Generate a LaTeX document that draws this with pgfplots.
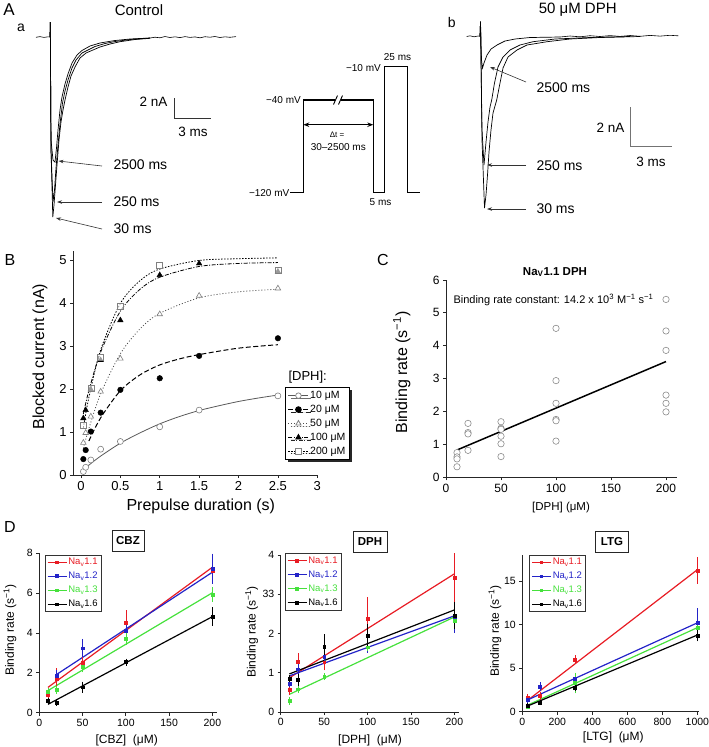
\documentclass[border=0pt]{standalone}
\usepackage{fontspec}
\setmainfont{Liberation Sans}
\usepackage{pgfplots}
\pgfplotsset{compat=1.18}
\usetikzlibrary{arrows.meta,shadows}
\newcommand\fs[1]{\fontsize{#1bp}{#1bp}\selectfont}
\definecolor{rD}{RGB}{232,28,36}
\definecolor{bD}{RGB}{35,35,200}
\definecolor{gD}{RGB}{70,225,60}
\definecolor{cg}{RGB}{140,140,140}
\pgfplotsset{
 panel/.style={scale only axis, anchor=north west, axis lines=left,
   axis line style={-, black!85, line width=0.8bp}, tick align=outside,
   major tick length=3bp, tick style={black!85, line width=0.8bp},
   /pgf/number format/assume math mode=true, /pgf/number format/1000 sep={}, clip=false},
 dpanel/.style={panel, tick label style={font=\fs{10.5}},
   legend style={draw=black!80, fill=white, font=\fs{9.5}, cells={anchor=west}, row sep=3.5bp, inner sep=2bp, nodes={inner sep=1.2bp},
     /tikz/every even column/.append style={column sep=1bp}},
   legend image code/.code={\draw[mark repeat=2,mark phase=2] plot coordinates {(0bp,0bp)(9.5bp,0bp)(19bp,0bp)};}},
 ebar/.style={only marks, mark=square*, mark size=1.4bp, error bars/.cd, y dir=both, y explicit, error bar style={line width=0.5bp}, error mark options={line width=0.5bp, mark size=1.6bp}},
}
\begin{document}
\begin{tikzpicture}
\useasboundingbox (0,0) rectangle (709bp,-747bp);
% ---------- canvas axis: panel A drawings and all text ----------
\begin{axis}[scale only axis, anchor=north west, at={(0bp,0bp)}, width=709bp, height=747bp,
  xmin=0, xmax=709, ymin=0, ymax=747, y dir=reverse, axis lines=none, clip=false]
% A-a traces
\addplot[black, line width=0.6bp] coordinates {(36,37.3)(40,36.6)(44,37.4)(48,36.8)(50,37)};
\addplot[black, line width=0.7bp] coordinates {(50,37)(50.3,22)(51,150)(52.8,217)(54,205)(55.5,185)(57,165)(59,140)(61,122)(63,110)(65,100)(68,87)(71,76)(75,67)(80,58)(86,53)(93,50)(100,47)(110,44)(120,41.7)(135,39.5)(150,38.3)};
\addplot[black, line width=0.7bp] coordinates {(50,37)(50.3,22)(51,150)(53,202)(54.5,190)(56,168)(58,145)(60,124)(62.5,103)(65,91)(68,80)(72,68)(76,60)(82,53)(88,50)(95,46.5)(105,43.5)(115,41.5)(130,39.5)(150,38)};
\addplot[black, line width=0.7bp] coordinates {(50,37)(50.3,22)(51,140)(53,160)(55,162)(56.5,148)(58,130)(60,110)(62,97)(65,84)(68,74)(72,63)(77,55)(82,50.5)(90,46)(100,43)(115,40.5)(130,39)(150,38)};
\addplot[black, line width=0.6bp] coordinates {(150,38)(155,37.2)(160,37.8)(165,36.5)(170,37.5)(175,36.8)(180,37.6)(185,36.6)(190,37.4)(195,36.9)(200,37.8)(205,36.7)(210,37.2)(215,36.5)(220,37.5)(225,36.8)(230,37.3)(236,36.6)};
% scale bar a
\addplot[black!80, line width=0.7bp] coordinates {(174,98)(174,118)(211,118)};
% arrows a
\addplot[black!80, line width=0.6bp, -{Stealth[length=5bp,width=3.5bp]}] coordinates {(102,166)(58.5,161)};
\addplot[black!80, line width=0.6bp, -{Stealth[length=5bp,width=3.5bp]}] coordinates {(102,202)(57,202)};
\addplot[black!80, line width=0.6bp, -{Stealth[length=5bp,width=3.5bp]}] coordinates {(102,229)(56,218)};
% protocol
\addplot[black, line width=1.3bp] coordinates {(290,192.7)(303.3,192.7)(303.3,100)(373.3,100)(373.3,192.7)(384.3,192.7)(384.3,66.7)(407.7,66.7)(407.7,192.7)(420,192.7)};
\addplot[white, line width=2.5bp] coordinates {(335,100)(341,100)};
\addplot[black, line width=0.9bp] coordinates {(333.5,104.5)(337.5,95.5)};
\addplot[black, line width=0.9bp] coordinates {(338.5,104.5)(342.5,95.5)};
\addplot[black, line width=1bp, {Stealth[length=6bp,width=4.5bp]}-{Stealth[length=6bp,width=4.5bp]}] coordinates {(303.3,124.7)(373.3,124.7)};
% A-b traces
\addplot[black, line width=0.6bp] coordinates {(466.7,36.5)(470,35.8)(474,36.8)(478,36)(480,36.3)};
\addplot[black, line width=0.7bp] coordinates {(480,36)(480.5,21.7)(482,140)(484.5,208)(486,195)(487.5,175)(489,152)(491,130)(493,113)(496.7,100)(500,83)(503,68)(508,57)(517,50)(527,45)(547,41.7)(570,39)(600,37.5)(640,36.5)};
\addplot[black, line width=0.7bp] coordinates {(480,36)(480.5,21.7)(482,130)(484,165)(486,142)(488,122)(490,107)(491.7,100)(494.5,83)(498,67)(503,57)(510,50)(520,45)(533,41.7)(555,39)(590,37.5)(630,36.5)};
\addplot[black, line width=0.7bp] coordinates {(480,36)(480.5,21.7)(481.5,60)(482.5,68)(484,63)(487,55)(491,49)(497,45)(505,41)(515,39)(530,37.5)(560,37)};
\addplot[black, line width=0.6bp] coordinates {(560,37)(570,36)(580,36.8)(590,35.7)(600,36.5)(610,35.6)(620,36.4)(630,35.5)(640,36.3)(650,35.4)(660,36.1)(670,35.3)(678.3,35.8)};
% scale bar b
\addplot[black!55, line width=0.8bp] coordinates {(630.7,107)(630.7,146)(671.7,146)};
% arrows b
\addplot[black!80, line width=0.6bp, -{Stealth[length=5bp,width=3.5bp]}] coordinates {(526,82)(490,67)};
\addplot[black!80, line width=0.6bp, -{Stealth[length=5bp,width=3.5bp]}] coordinates {(526,165)(487,165)};
\addplot[black!80, line width=0.6bp, -{Stealth[length=5bp,width=3.5bp]}] coordinates {(526,209)(487,209)};
% ---- texts ----
\node[font=\fs{17}] at (axis cs:9,10) {A};
\node[font=\fs{14}] at (axis cs:21,28) {a};
\node[font=\fs{15}] at (axis cs:139,10) {Control};
\node[font=\fs{14},anchor=west] at (axis cs:110,165) {2500 ms};
\node[font=\fs{14},anchor=west] at (axis cs:110,202) {250 ms};
\node[font=\fs{14},anchor=west] at (axis cs:110,229) {30 ms};
\node[font=\fs{13.5},anchor=east] at (axis cs:171,102) {2 nA};
\node[font=\fs{13.5}] at (axis cs:193,131.5) {3 ms};
\node[font=\fs{10},anchor=east,inner sep=1bp] at (axis cs:302,100) {−40 mV};
\node[font=\fs{10},anchor=east,inner sep=1bp] at (axis cs:290.5,193) {−120 mV};
\node[font=\fs{10},anchor=east,inner sep=1bp] at (axis cs:382,68.5) {−10 mV};
\node[font=\fs{10}] at (axis cs:397.5,57.5) {25 ms};
\node[font=\fs{10}] at (axis cs:380.5,202.3) {5 ms};
\node[font=\fs{8}] at (axis cs:337,135) {Δt =};
\node[font=\fs{10}] at (axis cs:338.3,146.7) {30–2500 ms};
\node[font=\fs{14}] at (axis cs:451.7,22) {b};
\node[font=\fs{15}] at (axis cs:577.7,9.5) {50 μM DPH};
\node[font=\fs{14},anchor=west] at (axis cs:533,88) {2500 ms};
\node[font=\fs{14},anchor=west] at (axis cs:533,166) {250 ms};
\node[font=\fs{14},anchor=west] at (axis cs:533,209) {30 ms};
\node[font=\fs{13.5},anchor=east] at (axis cs:628,128) {2 nA};
\node[font=\fs{13.5}] at (axis cs:651,162) {3 ms};
\node[font=\fs{16}] at (axis cs:10,260) {B};
\node[font=\fs{16}] at (axis cs:383,260) {C};
\node[font=\fs{16}] at (axis cs:10,527) {D};
\node[font=\fs{16},rotate=90] at (axis cs:40,356.7) {Blocked current (nA)};
\node[font=\fs{16}] at (axis cs:200.8,506) {Prepulse duration (s)};
\node[font=\fs{13},anchor=west] at (axis cs:285,377) {[DPH]:};
\node[font=\bfseries\fs{11.5}] at (axis cs:555,272) {Na\textsubscript{V}1.1 DPH};
\node[font=\fs{11},anchor=west] at (axis cs:450,300) {Binding rate constant: 14.2 x 10\textsuperscript{3} M\textsuperscript{−1} s\textsuperscript{−1}};
\node[font=\fs{16},rotate=90] at (axis cs:401.7,372.5) {Binding rate (s\textsuperscript{−1})};
\node[font=\fs{11.5}] at (axis cs:561,507.3) {[DPH] (μM)};
\node[font=\fs{12},rotate=90] at (axis cs:10,630) {Binding rate (s\textsuperscript{−1})};
\node[font=\fs{12}] at (axis cs:126.7,740) {[CBZ]\ \ (μM)};
\node[font=\fs{12},rotate=90] at (axis cs:251.7,632) {Binding rate (s\textsuperscript{−1})};
\node[font=\fs{12}] at (axis cs:370,740) {[DPH]\ \ (μM)};
\node[font=\fs{12},rotate=90] at (axis cs:495,631) {Binding rate (s\textsuperscript{−1})};
\node[font=\fs{12}] at (axis cs:613.3,737) {[LTG]\ \ (μM)};
\node[draw=black!85, line width=1bp, font=\bfseries\fs{11.5}, minimum width=32bp, minimum height=21bp, inner sep=1bp] at (axis cs:128,541) {CBZ};
\node[draw=black!85, line width=1bp, font=\bfseries\fs{11.5}, minimum width=34bp, minimum height=21bp, inner sep=1bp] at (axis cs:370,542) {DPH};
\node[draw=black!85, line width=1bp, font=\bfseries\fs{11.5}, minimum width=33bp, minimum height=21bp, inner sep=1bp] at (axis cs:612,542) {LTG};
\end{axis}

% ---------- Panel B ----------
\begin{axis}[panel, at={(73.1bp,-251.4bp)}, width=244.2bp, height=223.6bp,
  xmin=-0.1, xmax=3, ymin=0, ymax=5.2, xtick={0,0.5,1,1.5,2,2.5,3}, ytick={0,1,2,3,4,5},
  xticklabels={0,0.5,1,1.5,2,2.5,3},
  tick label style={font=\fs{13}},
  legend style={at={(axis description cs:0.8677,0.3936)}, anchor=north west, draw=black, line width=0.9bp, fill=white,
    drop shadow={shadow xshift=2.5bp, shadow yshift=-2.5bp, fill=black, opacity=0.85},
    font=\fs{10.5}, cells={anchor=west}, row sep=2.5bp, inner sep=2.5bp, nodes={inner sep=1.3bp},
    /tikz/every even column/.append style={column sep=1bp}},
  legend image code/.code={\draw[mark repeat=2,mark phase=2] plot coordinates {(0bp,0bp)(10bp,0bp)(20bp,0bp)};}]
\addlegendimage{gray!70!black, line width=0.7bp, mark=*, mark size=2.8bp, mark options={solid, fill=white, draw=gray}}
\addlegendentry{10 μM}
\addlegendimage{black, line width=1bp, dash pattern=on 5bp off 2.5bp, mark=*, mark size=2.8bp, mark options={solid, fill=black}}
\addlegendentry{20 μM}
\addlegendimage{gray!60!black, line width=0.8bp, dash pattern=on 1bp off 2bp, mark=triangle*, mark size=3bp, mark options={solid, fill=white, draw=gray}}
\addlegendentry{50 μM}
\addlegendimage{black, line width=0.8bp, dash pattern=on 4bp off 1.5bp on 1bp off 1.5bp, mark=triangle*, mark size=3bp, mark options={solid, fill=black}}
\addlegendentry{100 μM}
\addlegendimage{black, line width=0.8bp, dash pattern=on 1.5bp off 1.5bp, mark=square*, mark size=2.7bp, mark options={solid, fill=white, draw=gray}}
\addlegendentry{200 μM}
% fits
\addplot[forget plot, gray!70!black, line width=0.8bp, smooth] coordinates {(0.03,0.13)(0.1,0.23)(0.25,0.44)(0.5,0.74)(0.75,0.98)(1,1.19)(1.25,1.36)(1.5,1.50)(1.75,1.61)(2,1.71)(2.25,1.79)(2.5,1.86)};
\addplot[forget plot, black, line width=1bp, dash pattern=on 5bp off 2.5bp, smooth] coordinates {(0.1,0.79)(0.25,1.33)(0.5,1.96)(0.75,2.33)(1,2.56)(1.25,2.7)(1.5,2.8)(2,2.95)(2.5,3.03)};
\addplot[forget plot, gray!60!black, line width=0.8bp, dash pattern=on 1bp off 2bp, smooth] coordinates {(0.03,0.62)(0.1,1.08)(0.25,1.89)(0.5,2.82)(0.75,3.40)(1,3.76)(1.5,4.12)(2,4.26)(2.5,4.32)};
\addplot[forget plot, black, line width=0.8bp, dash pattern=on 4bp off 1.5bp on 1bp off 1.5bp, smooth] coordinates {(0.03,1.42)(0.1,1.96)(0.25,2.86)(0.5,3.81)(0.75,4.32)(1,4.6)(1.5,4.85)(2,4.92)(2.5,4.94)};
\addplot[forget plot, black, line width=0.8bp, dash pattern=on 1.5bp off 1.5bp, smooth] coordinates {(0.03,1.10)(0.1,1.80)(0.25,2.91)(0.5,3.99)(0.75,4.52)(1,4.79)(1.5,4.99)(2,5.03)(2.5,5.05)};
% data
\addplot[forget plot, only marks, mark=*, mark size=3bp, mark options={fill=white, draw=gray, line width=0.6bp}] coordinates {(0.03,0.08)(0.06,0.18)(0.125,0.35)(0.25,0.6)(0.5,0.78)(1,1.12)(1.5,1.51)(2.5,1.84)};
\addplot[forget plot, only marks, mark=*, mark size=2.8bp, black] coordinates {(0.03,0.37)(0.06,0.58)(0.125,1.01)(0.25,1.45)(0.5,1.98)(1,2.25)(1.5,2.77)(2.5,3.18)};
\addplot[forget plot, only marks, mark=triangle*, mark size=3.2bp, mark options={fill=white, draw=gray, line width=0.6bp}] coordinates {(0.03,0.75)(0.06,0.98)(0.125,1.36)(0.25,1.94)(0.5,2.71)(1,3.74)(1.5,4.17)(2.5,4.34)};
\addplot[forget plot, only marks, mark=triangle*, mark size=3.2bp, black] coordinates {(0.03,1.32)(0.06,1.51)(0.125,1.99)(0.25,2.67)(0.5,3.60)(1,4.65)(1.5,4.92)(2.5,4.73)};
\addplot[forget plot, only marks, mark=square*, mark size=3bp, mark options={fill=white, fill opacity=0.6, draw=gray, line width=0.6bp}] coordinates {(0.03,1.16)(0.125,2.02)(0.25,2.74)(0.5,3.93)(1,4.88)(2.5,4.77)};
\end{axis}

% ---------- Panel C ----------
\begin{axis}[panel, at={(446bp,-280bp)}, width=231bp, height=197.3bp,
  xmin=0, xmax=210, ymin=0, ymax=6, xtick={0,50,100,150,200}, ytick={0,1,2,3,4,5,6},
  tick label style={font=\fs{12}}]
\addplot[only marks, mark=*, mark size=3.2bp, mark options={fill=white, draw=cg, line width=0.6bp}] coordinates {
(10,0.75)(10,0.62)(10,0.56)(10,0.32)
(20,1.64)(20,1.36)(20,1.32)(20,0.82)
(50,1.69)(50,1.49)(50,1.46)(50,1.25)(50,1.02)(50,0.63)
(100,4.53)(100,2.94)(100,2.25)(100,1.76)(100,1.72)(100,1.10)
(200,5.41)(200,4.45)(200,3.86)(200,2.50)(200,2.25)(200,1.99)};
\addplot[black, line width=1.5bp] coordinates {(10,0.83)(200,3.52)};
\end{axis}

% ---------- Panel D1 CBZ ----------
\begin{axis}[dpanel, at={(39.3bp,-553.3bp)}, width=177.4bp, height=159.4bp,
  xmin=0, xmax=205, ymin=0, ymax=8, xtick={0,50,100,150,200}, ytick={0,2,4,6,8},
  legend style={at={(axis description cs:0.032,0.99)}, anchor=north west}]
\addlegendimage{rD, line width=1bp, mark=square*, mark size=1.3bp}
\addlegendentry{\color{rD}Na\textsubscript{v}1.1}
\addlegendimage{bD, line width=1bp, mark=square*, mark size=1.3bp}
\addlegendentry{\color{bD}Na\textsubscript{v}1.2}
\addlegendimage{gD, line width=1bp, mark=square*, mark size=1.3bp}
\addlegendentry{\color{gD}Na\textsubscript{v}1.3}
\addlegendimage{black, line width=1bp, mark=square*, mark size=1.3bp}
\addlegendentry{Na\textsubscript{v}1.6}
\addplot[forget plot, rD, line width=1.2bp] coordinates {(10,1.27)(200,7.3)};
\addplot[forget plot, bD, line width=1.2bp] coordinates {(20,1.92)(200,7.05)};
\addplot[forget plot, gD, line width=1.2bp] coordinates {(10,1.11)(200,6.02)};
\addplot[forget plot, black, line width=1.2bp] coordinates {(10,0.42)(200,4.82)};
\addplot[forget plot, rD, ebar] coordinates {(10,0.89) +- (0,0.12) (20,1.7) +- (0,0.45) (50,2.49) +- (0,0.25) (100,4.5) +- (0,0.55) (200,7.1) +- (0,0.4)};
\addplot[forget plot, bD, ebar] coordinates {(20,1.85) +- (0,0.2) (50,3.24) +- (0,0.38) (100,4.1) +- (0,0.3) (200,7.22) +- (0,0.68)};
\addplot[forget plot, gD, ebar] coordinates {(10,1.06) +- (0,0.1) (20,1.14) +- (0,0.1) (50,2.3) +- (0,0.2) (100,3.7) +- (0,0.2) (200,5.93) +- (0,0.3)};
\addplot[forget plot, black, ebar] coordinates {(10,0.59) +- (0,0.08) (20,0.5) +- (0,0.08) (50,1.28) +- (0,0.2) (100,2.54) +- (0,0.1) (200,4.82) +- (0,0.38)};
\end{axis}

% ---------- Panel D2 DPH ----------
\begin{axis}[dpanel, at={(280.7bp,-555bp)}, width=178bp, height=157bp,
  xmin=0, xmax=205, ymin=0, ymax=4, xtick={0,50,100,150,200}, ytick={0,1,2,3,4},
  yticklabels={0,1,2,33,4},
  legend style={at={(axis description cs:0.024,1.01)}, anchor=north west}]
\addlegendimage{rD, line width=1bp, mark=square*, mark size=1.3bp}
\addlegendentry{\color{rD}Na\textsubscript{v}1.1}
\addlegendimage{bD, line width=1bp, mark=square*, mark size=1.3bp}
\addlegendentry{\color{bD}Na\textsubscript{v}1.2}
\addlegendimage{gD, line width=1bp, mark=square*, mark size=1.3bp}
\addlegendentry{\color{gD}Na\textsubscript{v}1.3}
\addlegendimage{black, line width=1bp, mark=square*, mark size=1.3bp}
\addlegendentry{Na\textsubscript{v}1.6}
\addplot[forget plot, rD, line width=1.2bp] coordinates {(10,0.87)(200,3.52)};
\addplot[forget plot, bD, line width=1.2bp] coordinates {(10,0.92)(200,2.45)};
\addplot[forget plot, gD, line width=1.2bp] coordinates {(10,0.45)(200,2.42)};
\addplot[forget plot, black, line width=1.2bp] coordinates {(10,0.97)(200,2.6)};
\addplot[forget plot, rD, ebar] coordinates {(10,0.56) +- (0,0.08) (20,1.29) +- (0,0.17) (50,1.27) +- (0,0.17) (100,2.38) +- (0,0.5) (200,3.42) +- (0,0.58)};
\addplot[forget plot, bD, ebar] coordinates {(10,0.73) +- (0,0.05) (20,1.09) +- (0,0.1) (50,1.40) +- (0,0.1) (100,1.65) +- (0,0.1) (200,2.4) +- (0,0.35)};
\addplot[forget plot, gD, ebar] coordinates {(10,0.28) +- (0,0.05) (20,0.58) +- (0,0.05) (50,0.9) +- (0,0.05) (100,1.65) +- (0,0.05) (200,2.33) +- (0,0.1)};
\addplot[forget plot, black, ebar] coordinates {(10,0.84) +- (0,0.05) (20,0.82) +- (0,0.12) (50,1.67) +- (0,0.27) (100,1.95) +- (0,0.25) (200,2.45) +- (0,0.3)};
\end{axis}

% ---------- Panel D3 LTG ----------
\begin{axis}[dpanel, at={(522.3bp,-554.9bp)}, width=176.8bp, height=156.8bp,
  xmin=0, xmax=1010, ymin=0, ymax=18, xtick={0,200,400,600,800,1000}, ytick={0,5,10,15},
  legend style={at={(axis description cs:0.04,1.0)}, anchor=north west}]
\addlegendimage{rD, line width=1bp, mark=square*, mark size=1.3bp}
\addlegendentry{\color{rD}Na\textsubscript{v}1.1}
\addlegendimage{bD, line width=1bp, mark=square*, mark size=1.3bp}
\addlegendentry{\color{bD}Na\textsubscript{v}1.2}
\addlegendimage{gD, line width=1bp, mark=square*, mark size=1.3bp}
\addlegendentry{\color{gD}Na\textsubscript{v}1.3}
\addlegendimage{black, line width=1bp, mark=square*, mark size=1.3bp}
\addlegendentry{Na\textsubscript{v}1.6}
\addplot[forget plot, rD, line width=1.2bp] coordinates {(30,1.3)(1000,16.3)};
\addplot[forget plot, bD, line width=1.2bp] coordinates {(30,1.35)(1000,10.2)};
\addplot[forget plot, gD, line width=1.2bp] coordinates {(30,0.75)(1000,9.65)};
\addplot[forget plot, black, line width=1.2bp] coordinates {(30,0.65)(1000,8.8)};
\addplot[forget plot, rD, ebar] coordinates {(30,1.65) +- (0,0.2) (100,1.8) +- (0,0.3) (300,6.0) +- (0,0.3) (1000,16.2) +- (0,1.35)};
\addplot[forget plot, bD, ebar] coordinates {(30,1.4) +- (0,0.2) (100,2.87) +- (0,0.3) (300,3.8) +- (0,0.4) (1000,10.2) +- (0,1.5)};
\addplot[forget plot, gD, ebar] coordinates {(30,0.6) +- (0,0.1) (100,1.1) +- (0,0.1) (300,3.3) +- (0,1.0) (1000,9.6) +- (0,0.3)};
\addplot[forget plot, black, ebar] coordinates {(30,0.69) +- (0,0.1) (100,1.03) +- (0,0.1) (300,2.75) +- (0,0.2) (1000,8.75) +- (0,0.5)};
\end{axis}
\end{tikzpicture}
\end{document}
